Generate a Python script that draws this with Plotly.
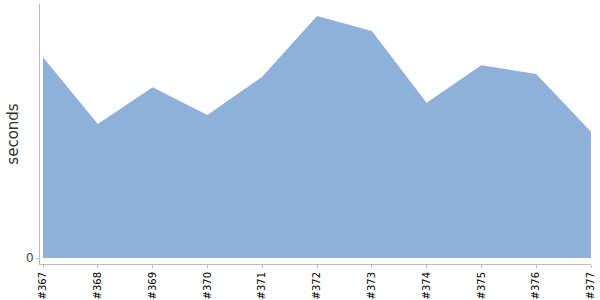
import plotly.graph_objects as go

builds = ["#367", "#368", "#369", "#370", "#371", "#372", "#373", "#374", "#375", "#376", "#377"]
seconds = [200.7, 134, 170.7, 143, 181.3, 242, 227, 155.3, 192.7, 184, 126.3]

x_idx = list(range(len(builds)))

fig = go.Figure()
fig.add_trace(go.Scatter(
    x=x_idx, y=seconds, mode="lines", fill="tozeroy",
    line=dict(width=0, color="rgb(143,177,217)"),
    fillcolor="rgb(143,177,217)", hoverinfo="skip", showlegend=False,
))

fig.update_layout(
    width=600, height=300,
    margin=dict(l=40, r=9, t=4, b=36),
    paper_bgcolor="white", plot_bgcolor="white",
    font=dict(family="DejaVu Sans", color="#333"),
    xaxis=dict(
        range=[-0.055, len(builds) - 1],
        tickvals=x_idx, ticktext=builds, tickangle=-90,
        tickfont=dict(size=10, color="black"),
        showgrid=False, zeroline=False, automargin=False,
        showline=True, linecolor="#bbbbbb", linewidth=1,
        ticks="outside", ticklen=3, tickcolor="#bbbbbb",
    ),
    yaxis=dict(
        range=[-6, 254],
        tickvals=[0], ticktext=["0"],
        tickfont=dict(size=12, color="#444"),
        showgrid=False, zeroline=False, automargin=False,
        showline=True, linecolor="#bbbbbb", linewidth=1,
        ticks="outside", ticklen=3, tickcolor="#bbbbbb",
        title=dict(text="seconds", font=dict(size=15, color="#333"), standoff=3),
    ),
)

fig.write_html("out.html")
